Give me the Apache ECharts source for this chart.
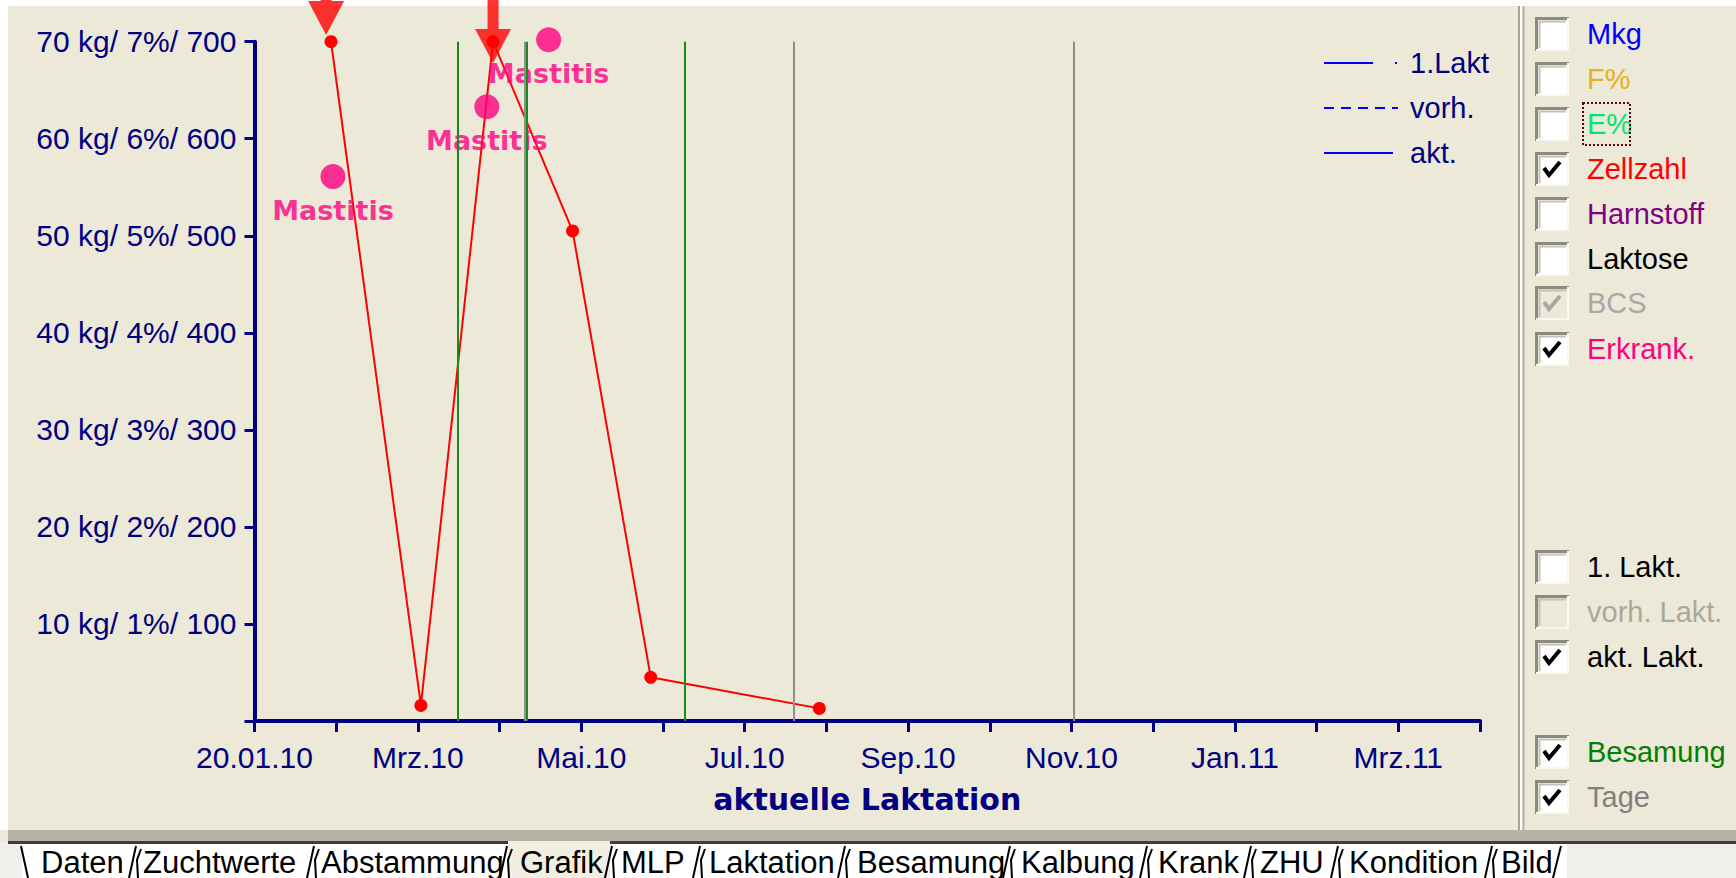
<!DOCTYPE html>
<html>
<head>
<meta charset="utf-8">
<title>Grafik – aktuelle Laktation</title>
<script src="https://cdn.jsdelivr.net/npm/echarts@6/dist/echarts.min.js"></script>
<style>
  html, body { margin: 0; padding: 0; background: #ffffff; }
  #chart { width: 1736px; height: 878px; }
</style>
</head>
<body>
<div id="chart"></div>
<script>
// x axis: days since 20.01.10, one tick every 30 days
const xTickLabels = ['20.01.10', '', 'Mrz.10', '', 'Mai.10', '', 'Jul.10', '', 'Sep.10', '', 'Nov.10', '', 'Jan.11', '', 'Mrz.11', ''];
const yTickLabels = ['', '10 kg/ 1%/ 100', '20 kg/ 2%/ 200', '30 kg/ 3%/ 300', '40 kg/ 4%/ 400', '50 kg/ 5%/ 500', '60 kg/ 6%/ 600', '70 kg/ 7%/ 700'];

// Zellzahl (cell count, thousands), off-scale values drawn at the axis top
const zellzahlDays = [28.1, 61.1, 87.6, 116.8, 145.5, 207.4];
const zellzahlValues = [700, 16, 700, 505, 45, 13];

// off-scale markers (arrow tips)
const overflowDays = [26.3, 87.6];
const overflowTips = [707, 678];

// disease events
const diseaseDays = [28.8, 85.3, 108];
const diseaseLevels = [561, 633, 702];
const diseaseNames = ['Mastitis', 'Mastitis', 'Mastitis'];

// inseminations and day markers
const besamungDays = [74.5, 100, 158];
const tageDays = [99.4, 198, 301];

// line-style key
const keyLabels = ['1.Lakt', 'vorh.', 'akt.'];

// option checkboxes: label, checked, enabled
const optionLabels = ['Mkg', 'F%', 'E%', 'Zellzahl', 'Harnstoff', 'Laktose', 'BCS', 'Erkrank.'];
const optionChecked = [false, false, false, true, false, false, true, true];
const optionEnabled = [true, true, true, true, true, true, false, true];
const lactLabels = ['1. Lakt.', 'vorh. Lakt.', 'akt. Lakt.'];
const lactChecked = [false, false, true];
const lactEnabled = [true, false, true];
const markerLabels = ['Besamung', 'Tage'];
const markerChecked = [true, true];

// tabs
const tabLabels = ['Daten', 'Zuchtwerte', 'Abstammung', 'Grafik', 'MLP', 'Laktation', 'Besamung', 'Kalbung', 'Krank', 'ZHU', 'Kondition', 'Bild'];
const activeTab = 'Grafik';

// ---- styling / layout ----
const NAVY = '#000080';
const BG = '#ECE9D8';
const optionColors = ['#0000FF', '#E8B020', '#00E676', '#FF0000', '#800080', '#000000', '#A8A8A8', '#FF0080'];
const lactColors = ['#000000', '#ACA899', '#000000'];
const markerColors = ['#008000', '#808080'];
const optionRowY = [34, 79, 124, 169, 214, 259, 303, 349];
const lactRowY = [567, 612, 657];
const markerRowY = [752, 797];
const tabTextX = [41, 143, 321, 520, 621, 709, 857, 1021, 1158, 1260, 1349, 1501];
const tabEdgeX = [134, 312, 505, 610, 698, 843, 1008, 1145, 1249, 1336, 1490];
const arrowPath = 'path://M12.5,0 L23.5,0 L23.5,36 L36,36 L18,70 L0,36 L12.5,36 Z';

const graphics = [];

// white frame strips (top, left)
graphics.push({ type: 'rect', shape: { x: 0, y: 0, width: 1736, height: 6 }, style: { fill: '#FFFFFF' }, silent: true });
graphics.push({ type: 'rect', shape: { x: 0, y: 0, width: 8, height: 830 }, style: { fill: '#FFFFFF' }, silent: true });

// panel separator (double line)
graphics.push({ type: 'line', shape: { x1: 1519, y1: 6, x2: 1519, y2: 831 }, style: { stroke: '#A7A496', lineWidth: 2 }, silent: true });
graphics.push({ type: 'line', shape: { x1: 1521, y1: 6, x2: 1521, y2: 831 }, style: { stroke: '#FFFFFF', lineWidth: 2 }, silent: true });
graphics.push({ type: 'line', shape: { x1: 1523.5, y1: 6, x2: 1523.5, y2: 831 }, style: { stroke: '#B5B2A3', lineWidth: 2 }, silent: true });

// tab strip
graphics.push({ type: 'rect', shape: { x: 8, y: 830, width: 1728, height: 11 }, style: { fill: '#B7B3A4' }, silent: true });
graphics.push({ type: 'rect', shape: { x: 0, y: 841, width: 1736, height: 37 }, style: { fill: '#EFEFEC' }, silent: true });
graphics.push({ type: 'rect', shape: { x: 22, y: 844, width: 1545, height: 34 }, style: { fill: '#FFFFFF' }, silent: true });
graphics.push({ type: 'line', shape: { x1: 8, y1: 842.5, x2: 1736, y2: 842.5 }, style: { stroke: '#3C3C3C', lineWidth: 3 }, silent: true });

const activeIdx = tabLabels.indexOf(activeTab);
graphics.push({ type: 'rect', shape: { x: tabEdgeX[activeIdx - 1] + 3, y: 841, width: tabEdgeX[activeIdx] - tabEdgeX[activeIdx - 1] - 3, height: 37 }, style: { fill: '#F1EFE2' }, silent: true });

// tab edges
graphics.push({ type: 'line', shape: { x1: 21, y1: 846, x2: 28, y2: 878 }, style: { stroke: '#000000', lineWidth: 2 }, silent: true });
tabEdgeX.forEach(function (b) {
  graphics.push({ type: 'line', shape: { x1: b - 5, y1: 878, x2: b + 2, y2: 846 }, style: { stroke: '#000000', lineWidth: 2 }, silent: true });
  graphics.push({ type: 'polyline', shape: { points: [[b + 7, 849], [b + 3, 860], [b + 4, 878]] }, style: { stroke: '#000000', lineWidth: 2, fill: null }, silent: true });
});
graphics.push({ type: 'line', shape: { x1: 1553, y1: 878, x2: 1561, y2: 846 }, style: { stroke: '#000000', lineWidth: 2 }, silent: true });
tabLabels.forEach(function (t, i) {
  graphics.push({ type: 'text', x: tabTextX[i], y: 862, style: { text: t, fill: '#000000', font: '31px "Liberation Sans", Arial, sans-serif', verticalAlign: 'middle', align: 'left' }, silent: true });
});

// line-style key (top right of plot)
const keyY = [63, 108, 153];
graphics.push({ type: 'line', shape: { x1: 1324, y1: keyY[0], x2: 1373, y2: keyY[0] }, style: { stroke: '#0000FF', lineWidth: 2 }, silent: true });
graphics.push({ type: 'rect', shape: { x: 1395, y: keyY[0] - 1, width: 2, height: 2 }, style: { fill: '#0000FF' }, silent: true });
graphics.push({ type: 'line', shape: { x1: 1324, y1: keyY[1], x2: 1398, y2: keyY[1] }, style: { stroke: '#0000FF', lineWidth: 2, lineDash: [10, 7] }, silent: true });
graphics.push({ type: 'line', shape: { x1: 1324, y1: keyY[2], x2: 1393, y2: keyY[2] }, style: { stroke: '#0000FF', lineWidth: 2 }, silent: true });
keyLabels.forEach(function (t, i) {
  graphics.push({ type: 'text', x: 1410, y: keyY[i], style: { text: t, fill: NAVY, font: '29px "Liberation Sans", Arial, sans-serif', verticalAlign: 'middle', align: 'left' }, silent: true });
});

// checkbox helper
function checkbox(y, label, color, checked, enabled) {
  const x = 1535, s = 34, top = y - s / 2;
  graphics.push({ type: 'rect', shape: { x: x, y: top, width: s, height: s }, style: { fill: enabled ? '#FFFFFF' : BG }, silent: true });
  graphics.push({ type: 'polyline', shape: { points: [[x + 1.5, top + s], [x + 1.5, top + 1.5], [x + s, top + 1.5]] }, style: { stroke: '#8C8A7E', lineWidth: 3, fill: null }, silent: true });
  graphics.push({ type: 'polyline', shape: { points: [[x + 4.5, top + s - 3], [x + 4.5, top + 4.5], [x + s - 3, top + 4.5]] }, style: { stroke: '#C5C2B2', lineWidth: 2, fill: null }, silent: true });
  graphics.push({ type: 'polyline', shape: { points: [[x + s - 1, top + 1], [x + s - 1, top + s - 1], [x + 1, top + s - 1]] }, style: { stroke: '#F8F7F1', lineWidth: 2, fill: null }, silent: true });
  if (checked) {
    graphics.push({ type: 'polyline', shape: { points: [[x + 9, top + 16], [x + 14, top + 23], [x + 25, top + 10]] }, style: { stroke: enabled ? '#000000' : '#A8A8A8', lineWidth: 4, fill: null }, silent: true });
  }
  graphics.push({ type: 'text', x: 1587, y: y, style: { text: label, fill: color, font: '29px "Liberation Sans", Arial, sans-serif', verticalAlign: 'middle', align: 'left' }, silent: true });
}
optionLabels.forEach(function (t, i) { checkbox(optionRowY[i], t, optionColors[i], optionChecked[i], optionEnabled[i]); });
lactLabels.forEach(function (t, i) { checkbox(lactRowY[i], t, lactColors[i], lactChecked[i], lactEnabled[i]); });
markerLabels.forEach(function (t, i) { checkbox(markerRowY[i], t, markerColors[i], markerChecked[i], true); });
// focus rectangle around the E% option
graphics.push({ type: 'rect', shape: { x: 1583, y: 103, width: 47, height: 42 }, style: { fill: null, stroke: '#5A0018', lineWidth: 2, lineDash: [2, 2] }, silent: true });

const chart = echarts.init(document.getElementById('chart'), null, { renderer: 'svg', width: 1736, height: 878 });

chart.setOption({
  animation: false,
  backgroundColor: BG,
  grid: { left: 254.5, top: 41.7, width: 1225.5, height: 679.3, containLabel: false },
  xAxis: {
    type: 'value', min: 0, max: 450, interval: 30,
    axisLine: { show: true, onZero: false, lineStyle: { color: NAVY, width: 4 } },
    axisTick: { show: true, length: 11, lineStyle: { color: NAVY, width: 3 } },
    axisLabel: {
      margin: 21, color: NAVY, fontSize: 30, fontFamily: '"Liberation Sans", Arial, sans-serif',
      formatter: function (v) { return xTickLabels[Math.round(v / 30)] || ''; }
    },
    splitLine: { show: false },
    name: 'aktuelle Laktation', nameLocation: 'middle', nameGap: 63,
    nameTextStyle: { color: NAVY, fontSize: 30, fontWeight: 'bold', fontFamily: '"DejaVu Sans", sans-serif' }
  },
  yAxis: {
    type: 'value', min: 0, max: 700, interval: 100,
    axisLine: { show: true, onZero: false, lineStyle: { color: NAVY, width: 4 } },
    axisTick: { show: true, length: 10, lineStyle: { color: NAVY, width: 3 } },
    axisLabel: {
      margin: 18, color: NAVY, fontSize: 30, fontFamily: '"Liberation Sans", Arial, sans-serif',
      formatter: function (v) { return yTickLabels[Math.round(v / 100)] || ''; }
    },
    splitLine: { show: false }
  },
  graphic: { elements: graphics },
  series: [
    {
      name: 'Tage', type: 'line', data: [], silent: true,
      markLine: {
        silent: true, symbol: 'none', animation: false, label: { show: false },
        lineStyle: { color: '#8E8E8E', width: 2, type: 'solid' },
        emphasis: { disabled: true },
        data: tageDays.map(function (d) { return { xAxis: d }; })
      }
    },
    {
      name: 'Besamung', type: 'line', data: [], silent: true,
      markLine: {
        silent: true, symbol: 'none', animation: false, label: { show: false },
        lineStyle: { color: '#1A8A1A', width: 2, type: 'solid' },
        emphasis: { disabled: true },
        data: besamungDays.map(function (d) { return { xAxis: d }; })
      }
    },
    {
      name: 'Zellzahl', type: 'line', clip: false, z: 3,
      data: zellzahlDays.map(function (d, i) { return [d, zellzahlValues[i]]; }),
      symbol: 'circle', symbolSize: 13, showAllSymbol: true,
      lineStyle: { color: '#FF0000', width: 2 },
      itemStyle: { color: '#FF0000' },
      emphasis: { disabled: true }
    },
    {
      name: 'Erkrank.', type: 'scatter', clip: false, z: 4,
      data: diseaseDays.map(function (d, i) { return { value: [d, diseaseLevels[i]], name: diseaseNames[i] }; }),
      symbol: 'circle', symbolSize: 25,
      itemStyle: { color: '#FF0080' },
      label: {
        show: true, position: 'bottom', distance: 8, formatter: '{b}',
        color: '#FF0080', fontSize: 27, fontWeight: 'bold', fontFamily: '"DejaVu Sans", sans-serif'
      },
      emphasis: { disabled: true }
    },
    {
      name: 'Überschreitung', type: 'scatter', clip: false, z: 10, zlevel: 0,
      data: overflowDays.map(function (d, i) { return [d, overflowTips[i]]; }),
      symbol: arrowPath, symbolSize: [36, 70], symbolOffset: [0, '-50%'],
      itemStyle: { color: '#FF0000' },
      emphasis: { disabled: true }
    }
  ]
});
</script>
</body>
</html>
